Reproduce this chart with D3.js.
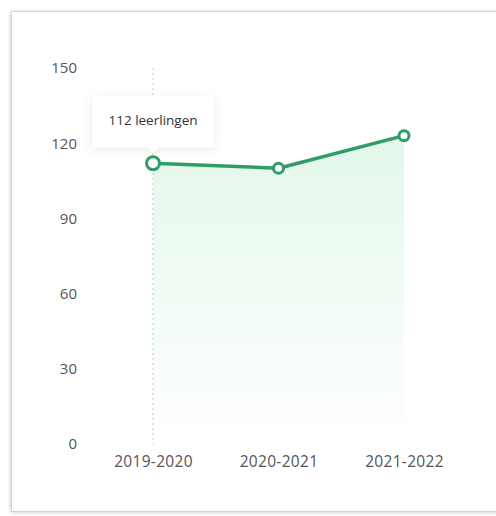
<!DOCTYPE html>
<html>
<head>
<meta charset="utf-8">
<script src="https://cdn.jsdelivr.net/npm/d3@7"></script>
<style>
  html, body { margin: 0; background: #fff; overflow: hidden; }
  svg { display: block; }
  text { font-family: "Open Sans", Lato, sans-serif; }
</style>
</head>
<body>
<svg id="chart" width="496" height="516"></svg>
<script>
// data
let years = ["2019-2020", "2020-2021", "2021-2022"]
let pupils = [112, 110, 123]
let yTicks = [0, 30, 60, 90, 120, 150]
let hoverIndex = 0

let svg = d3.select('#chart')

let defs = svg.append('defs')

let shadow = defs.append('filter').attr('id', 'cardShadow')
    .attr('x', '-5%').attr('y', '-5%').attr('width', '110%').attr('height', '110%')
shadow.append('feDropShadow')
    .attr('dx', 0).attr('dy', 1).attr('stdDeviation', 2)
    .attr('flood-color', '#000').attr('flood-opacity', 0.25)

let tipShadow = defs.append('filter').attr('id', 'tipShadow')
    .attr('x', '-30%').attr('y', '-40%').attr('width', '160%').attr('height', '180%')
tipShadow.append('feDropShadow')
    .attr('dx', 0).attr('dy', 2).attr('stdDeviation', 4)
    .attr('flood-color', '#b07090').attr('flood-opacity', 0.18)

let grad = defs.append('linearGradient').attr('id', 'areaFill')
    .attr('x1', 0).attr('y1', 0).attr('x2', 0).attr('y2', 1)
grad.append('stop').attr('offset', '0%').attr('stop-color', '#e3f7ea')
grad.append('stop').attr('offset', '100%').attr('stop-color', '#ffffff')

// card: open on the right, it runs past the screenshot edge
svg.append('rect')
    .attr('x', 11).attr('y', 11)
    .attr('width', 700).attr('height', 500)
    .attr('fill', '#fff')
    .attr('filter', 'url(#cardShadow)')
svg.append('path')
    .attr('d', 'M600,11.5 H11.5 V511.5 H600')
    .attr('fill', 'none')
    .attr('stroke', '#d4d4d4')

// scales
let x = d3.scalePoint()
    .domain(years)
    .range([153, 404])

let y = d3.scaleLinear()
    .domain([0, 150])
    .range([444, 68])

// y axis
let yAxis = d3.axisLeft(y).tickValues(yTicks).tickSize(0).tickPadding(0)
let gy = svg.append('g').attr('transform', 'translate(77,0)').call(yAxis)
gy.select('.domain').remove()
gy.selectAll('text')
    .attr('fill', '#555')
    .attr('font-size', 15)

// x axis
let xAxis = d3.axisBottom(x).tickSize(0).tickPadding(0)
let gx = svg.append('g').attr('transform', 'translate(0,456)').call(xAxis)
gx.select('.domain').remove()
gx.selectAll('text')
    .attr('fill', '#555')
    .attr('font-size', 15.5)
    .attr('letter-spacing', 0.3)

// area
let area = d3.area()
    .x((d, i) => x(years[i]))
    .y0(y(0))
    .y1(d => y(d))

svg.append('path')
    .datum(pupils)
    .attr('d', area)
    .attr('fill', 'url(#areaFill)')

// hover guide line
svg.append('line')
    .attr('x1', x(years[hoverIndex])).attr('x2', x(years[hoverIndex]))
    .attr('y1', y(150)).attr('y2', y(0))
    .attr('stroke', '#c8c8c8')
    .attr('stroke-width', 1)
    .attr('stroke-dasharray', '2,3')

// line
let line = d3.line()
    .x((d, i) => x(years[i]))
    .y(d => y(d))

svg.append('path')
    .datum(pupils)
    .attr('d', line)
    .attr('fill', 'none')
    .attr('stroke', '#2f9d65')
    .attr('stroke-width', 3.5)
    .attr('stroke-linejoin', 'round')

svg.selectAll('circle.pt')
    .data(pupils)
    .enter()
    .append('circle')
    .attr('class', 'pt')
    .attr('cx', (d, i) => x(years[i]))
    .attr('cy', d => y(d))
    .attr('r', (d, i) => i === hoverIndex ? 6.5 : 5)
    .attr('fill', '#fff')
    .attr('stroke', '#2f9d65')
    .attr('stroke-width', 3)

// tooltip
let tx = x(years[hoverIndex])
let ty = y(pupils[hoverIndex])
let tip = svg.append('g').attr('filter', 'url(#tipShadow)')
tip.append('path')
    .attr('d', `M${tx - 61},${ty - 68} h122 v52 h-55 l-6,6 l-6,-6 h-55 z`)
    .attr('fill', '#fff')
svg.append('text')
    .attr('x', tx)
    .attr('y', ty - 38)
    .attr('text-anchor', 'middle')
    .attr('font-size', 13.5)
    .attr('fill', '#333')
    .text(pupils[hoverIndex] + ' leerlingen')
</script>
</body>
</html>
